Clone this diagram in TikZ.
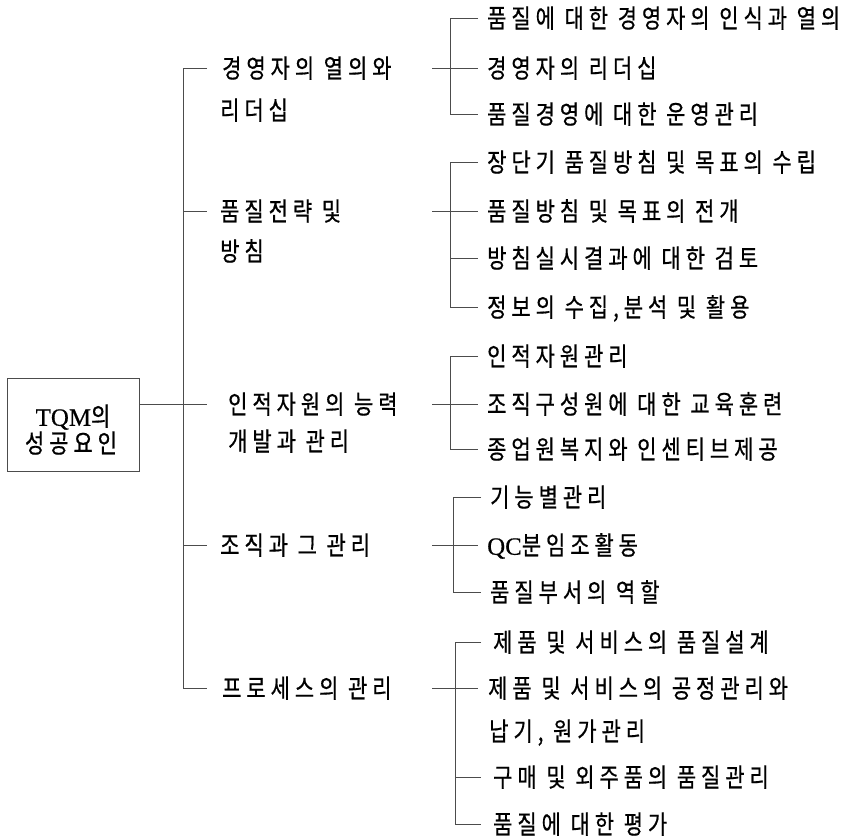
\documentclass[tikz,border=0pt]{standalone}
\usepackage{fontspec}
\newfontfamily\kr[FakeStretch=0.81,LetterSpace=19,FakeBold=0.6]{Noto Sans CJK KR}
\newfontfamily\lat[FakeBold=0.5]{Liberation Serif}
\usetikzlibrary{calc}
\begin{document}
\begin{tikzpicture}[x=1bp,y=-1bp,
  ln/.style={draw=black!70,line width=0.6bp},
  txt/.style={anchor=west,inner sep=0pt,font=\kr\fontsize{26}{28}\selectfont,text height=19.5bp,text depth=0bp},
]
\useasboundingbox (0,0) rectangle (856,839);
% helper x positions
\coordinate (T) at (183,0);
\coordinate (S) at (207,0);
\coordinate (K) at (432,0);
\coordinate (V) at (450,0);
\coordinate (V4) at (453,0);
\coordinate (V5) at (455,0);
\coordinate (W) at (478,0);
\coordinate (W5) at (481,0);

% root
\node[draw=black!70,line width=0.6bp,minimum width=132bp,minimum height=93bp,inner sep=0pt] (root) at (73,424.5) {};
\node[txt,anchor=center] (rt1) at (73,416) {{\lat\fontsize{25}{26}\selectfont TQM}의};
\node[txt,anchor=center] (rt2) at (71,443) {성공요인};

% level 1
\node[txt] (a1) at (222,68) {경영자의 열의와};
\node[txt] (a2) at (220,110) {리더십};
\node[txt] (b1) at (220,211) {품질전략 및};
\node[txt] (b2) at (220,251) {방침};
\node[txt] (c1) at (228,404) {인적자원의 능력};
\node[txt] (c2) at (228,441) {개발과 관리};
\node[txt] (d1) at (220,545) {조직과 그 관리};
\node[txt] (e1) at (222,688) {프로세스의 관리};

% level 2
\node[txt] (r11) at (487,18) {품질에 대한 경영자의 인식과 열의};
\node[txt] (r12) at (487,68) {경영자의 리더십};
\node[txt] (r13) at (487,114) {품질경영에 대한 운영관리};

\node[txt] (r21) at (487,162) {장단기 품질방침 및 목표의 수립};
\node[txt] (r22) at (487,211) {품질방침 및 목표의 전개};
\node[txt] (r23) at (487,258) {방침실시결과에 대한 검토};
\node[txt] (r24) at (487,307) {정보의 수집,분석 및 활용};

\node[txt] (r31) at (487,356) {인적자원관리};
\node[txt] (r32) at (487,404) {조직구성원에 대한 교육훈련};
\node[txt] (r33) at (487,449) {종업원복지와 인센티브제공};

\node[txt] (r41) at (490,497) {기능별관리};
\node[txt] (r42) at (487,545) {{\lat\fontsize{25}{26}\selectfont QC}분임조활동};
\node[txt] (r43) at (490,592) {품질부서의 역할};

\node[txt] (r51) at (493,642) {제품 및 서비스의 품질설계};
\node[txt] (r52) at (488,688) {제품 및 서비스의 공정관리와};
\node[txt] (r52b) at (489,731) {납기, 원가관리};
\node[txt] (r53) at (493,777) {구매 및 외주품의 품질관리};
\node[txt] (r54) at (493,824) {품질에 대한 평가};

% trunk
\draw[ln] (a1.west -| S) -- (a1.west -| T) -- (e1.west -| T) -- (e1.west -| S);
\draw[ln] (b1.west -| T) -- (b1.west -| S);
\draw[ln] (d1.west -| T) -- (d1.west -| S);
\draw[ln] (root.east |- c1.west) -- (c1.west -| S);

% group 1
\draw[ln] (r11.west -| W) -- (r11.west -| V) -- (r13.west -| V) -- (r13.west -| W);
\draw[ln] (r12.west -| K) -- (r12.west -| W);
% group 2
\draw[ln] (r21.west -| W) -- (r21.west -| V) -- (r24.west -| V) -- (r24.west -| W);
\draw[ln] (r22.west -| K) -- (r22.west -| W);
\draw[ln] (r23.west -| V) -- (r23.west -| W);
% group 3
\draw[ln] (r31.west -| W) -- (r31.west -| V) -- (r33.west -| V) -- (r33.west -| W);
\draw[ln] (r32.west -| K) -- (r32.west -| W);
% group 4
\draw[ln] (r41.west -| W5) -- (r41.west -| V4) -- (r43.west -| V4) -- (r43.west -| W5);
\draw[ln] (r42.west -| K) -- (r42.west -| W);
% group 5
\draw[ln] (r51.west -| W5) -- (r51.west -| V5) -- (r54.west -| V5) -- (r54.west -| W5);
\draw[ln] (r52.west -| K) -- (r52.west -| W);
\draw[ln] (r53.west -| V5) -- (r53.west -| W5);
\end{tikzpicture}
\end{document}
